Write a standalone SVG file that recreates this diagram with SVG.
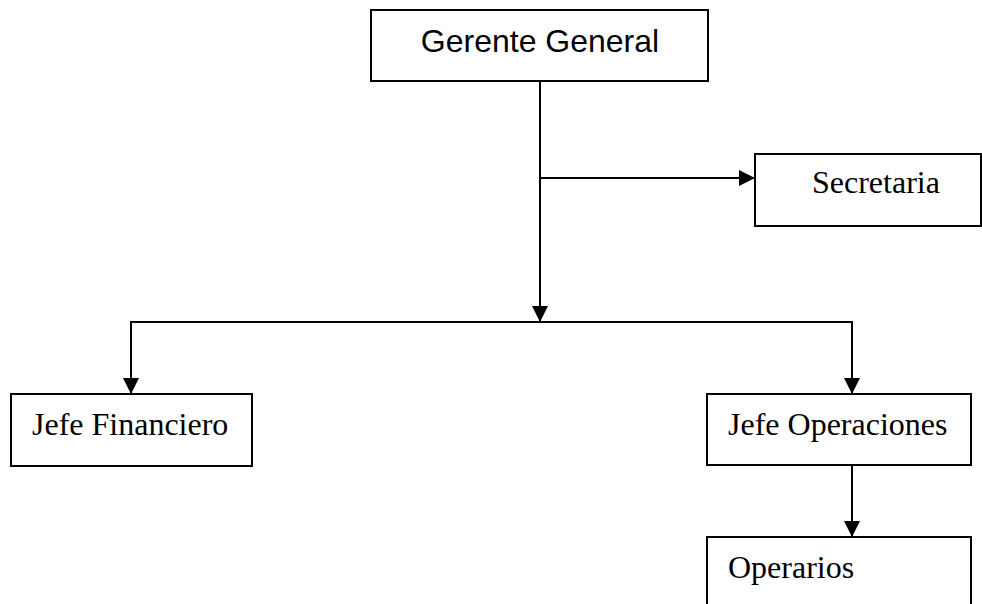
<svg xmlns="http://www.w3.org/2000/svg" width="982" height="604" viewBox="0 0 982 604">
<defs>
<style>
.box{fill:#fff;stroke:#000;stroke-width:2}
.ln{fill:none;stroke:#000;stroke-width:2}
.arr{marker-end:url(#ah)}
.sans{font-family:"Liberation Sans",Arial,sans-serif;font-size:32px;fill:#000}
.serif{font-family:"Liberation Serif","Times New Roman",serif;font-size:32px;fill:#000}
</style>
<marker id="ah" markerUnits="userSpaceOnUse" markerWidth="16" markerHeight="16" refX="15" refY="7.5" orient="auto" viewBox="0 0 15 15">
<path d="M0,0 L15,7.5 L0,15 z" fill="#000"/>
</marker>
</defs>
<rect width="982" height="604" fill="#fff"/>
<g id="connectors">
<line class="ln arr" x1="540" y1="81" x2="540" y2="322"/>
<line class="ln arr" x1="540" y1="178" x2="755" y2="178"/>
<polyline class="ln" points="131,322 852,322"/>
<line class="ln arr" x1="131" y1="321" x2="131" y2="394"/>
<line class="ln arr" x1="852" y1="321" x2="852" y2="394"/>
<line class="ln arr" x1="852" y1="465" x2="852" y2="537"/>
</g>
<g id="gerente">
<rect class="box" x="371" y="10" width="337" height="71"/>
<text class="sans" x="540" y="52" text-anchor="middle">Gerente General</text>
</g>
<g id="secretaria">
<rect class="box" x="755" y="154" width="226" height="72"/>
<text class="serif" x="812" y="193">Secretaria</text>
</g>
<g id="jefe-financiero">
<rect class="box" x="11" y="394" width="241" height="72"/>
<text class="serif" x="32" y="435">Jefe Financiero</text>
</g>
<g id="jefe-operaciones">
<rect class="box" x="707" y="394" width="264" height="71"/>
<text class="serif" x="728" y="435">Jefe Operaciones</text>
</g>
<g id="operarios">
<rect class="box" x="707" y="537" width="264" height="80"/>
<text class="serif" x="728" y="578">Operarios</text>
</g>
</svg>
